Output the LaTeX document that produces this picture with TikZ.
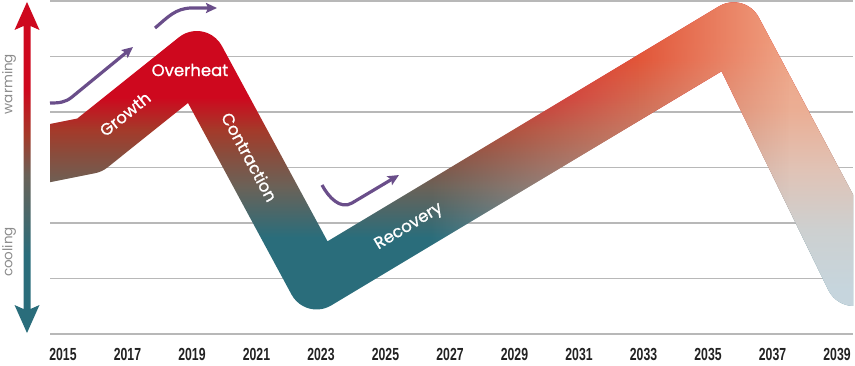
\documentclass[tikz,border=0pt]{standalone}
\usepackage{fontspec}
\usepackage{tikz}
\usetikzlibrary{arrows.meta,fadings,positioning}
\newfontfamily\yearfont[FakeStretch=0.7]{Liberation Sans}
\newfontfamily\phasefont[FakeBold=1]{Poppins}
\newfontfamily\scalefont{Poppins}

\definecolor{warmred}{RGB}{206,8,30}
\definecolor{deepbrick}{RGB}{164,58,42}
\definecolor{rustbrown}{RGB}{138,76,60}
\definecolor{midgrey}{RGB}{106,98,88}
\definecolor{coolteal}{RGB}{42,109,123}
\definecolor{hotorange}{RGB}{226,87,58}
\definecolor{dustrose}{RGB}{196,128,108}
\definecolor{mistgrey}{RGB}{168,170,176}
\definecolor{frostblue}{RGB}{184,200,208}
\definecolor{salmon}{RGB}{240,163,132}
\definecolor{peach}{RGB}{235,174,148}
\definecolor{sand}{RGB}{224,195,182}
\definecolor{ash}{RGB}{205,208,208}
\definecolor{iceblue}{RGB}{198,213,221}
\definecolor{gridgrey}{RGB}{184,184,184}
\definecolor{axisgrey}{RGB}{140,140,140}
\definecolor{trendpurple}{RGB}{106,78,138}
\definecolor{yeartext}{RGB}{34,34,34}

\pgfdeclareverticalshading{bandwarm}{100bp}{color(0bp)=(coolteal); color(42.5bp)=(coolteal);
  color(49.4bp)=(midgrey); color(54bp)=(rustbrown); color(57.2bp)=(deepbrick);
  color(61.7bp)=(warmred); color(100bp)=(warmred)}
\pgfdeclareverticalshading{bandhot}{100bp}{color(0bp)=(frostblue); color(35.3bp)=(frostblue);
  color(44.9bp)=(mistgrey); color(55.8bp)=(dustrose); color(66.8bp)=(hotorange);
  color(100bp)=(hotorange)}
\pgfdeclareverticalshading{bandpale}{100bp}{color(0bp)=(iceblue); color(35.3bp)=(iceblue);
  color(43.5bp)=(ash); color(51.7bp)=(sand); color(59.9bp)=(peach);
  color(69.5bp)=(salmon); color(100bp)=(salmon)}
\pgfdeclareverticalshading{scalearrow}{100bp}{color(0bp)=(coolteal); color(36.8bp)=(coolteal);
  color(48.9bp)=(midgrey); color(54.9bp)=(deepbrick); color(61.7bp)=(warmred);
  color(100bp)=(warmred)}

\tikzfading[name=fadein, left color=transparent!100, right color=transparent!0]

\tikzset{
  grid/.style={draw=gridgrey, line width=1.2pt},
  yearlab/.style={font=\yearfont\bfseries\fontsize{17.5}{19}\selectfont, text=yeartext,
                  inner sep=0pt},
  axislab/.style={font=\scalefont\fontsize{13.5}{15}\selectfont, text=axisgrey,
                  rotate=90, inner sep=0pt},
  phase/.style={font=\phasefont\fontsize{16.5}{18}\selectfont, text=white, inner sep=0pt},
  trend/.style={-{Stealth[length=11pt,width=10pt,inset=2pt]}, draw=trendpurple,
                line width=3.2pt},
}

\begin{document}
\begin{tikzpicture}[x=1pt, y=1pt]
\useasboundingbox (0,0) rectangle (855,365);

\foreach \k in {0,...,6}
  \draw[grid] (50,{364-55.5*\k}) -- (853,{364-55.5*\k});

\foreach \yr [count=\i from 0] in {2015,2017,...,2039}
  \node[yearlab] (y\yr) at ({63+64.5*\i},10.5) {\yr};

% warming / cooling scale
\shade[shading=scalearrow] (27,363) -- (39.5,335) -- (30.5,339) -- (30.5,56) -- (39.5,60)
  -- (27,32) -- (14.5,60) -- (23.5,56) -- (23.5,339) -- (14.5,335) -- cycle;
\node[axislab] (warming) at (9,281) {warming};
\node[axislab] (cooling) at (9,113) {cooling};

% the cycle band: outline of a 57pt wide stroke with round outer corners
\begin{scope}
  \clip (50,0) rectangle (853,365);
  \clip (40,239) -- (77.3,246.5) -- (179,327.76) arc[start angle=128.66, end angle=28.39, radius=28.5]
    -- (327.55,123.7) -- (718.94,358.64) arc[start angle=120.96, end angle=26, radius=28.5]
    -- (880,119.6) -- (880,70) -- (868.6,63.1) arc[start angle=300.96, end angle=206, radius=28.5]
    -- (721.6,293.8) -- (331.25,59.57) arc[start angle=300.96, end angle=208.39, radius=28.5]
    -- (188,262) -- (107.5,197.54) arc[start angle=308.66, end angle=281.31, radius=28.5]
    -- (40,180.8) -- cycle;
  \shade[shading=bandwarm] (0,0) rectangle (855,365);
  \shade[shading=bandhot, path fading=fadein] (430,0) rectangle (640,365);
  \shade[shading=bandhot] (639,0) rectangle (855,365);
  \shade[shading=bandpale, path fading=fadein] (640,0) rectangle (790,365);
  \shade[shading=bandpale] (789,0) rectangle (855,365);
\end{scope}

\node[phase] (overheat) at (190,295) {Overheat};
\node[phase, rotate=38.7] (growth) at (125,251) {Growth};
\node[phase, rotate=-61.6] (contraction) at (249.5,208) {Contraction};
\node[phase, rotate=31] (recovery) at (409,138) {Recovery};

\draw[trend] (50,262) to[out=0, in=-141] (72,268) -- (133,318);
\draw[trend] (155,337) to[out=40, in=180] (192,357) -- (217,357);
\draw[trend] (322,180) to[out=-62, in=-149] (352,162) -- (399,190);

\end{tikzpicture}
\end{document}
